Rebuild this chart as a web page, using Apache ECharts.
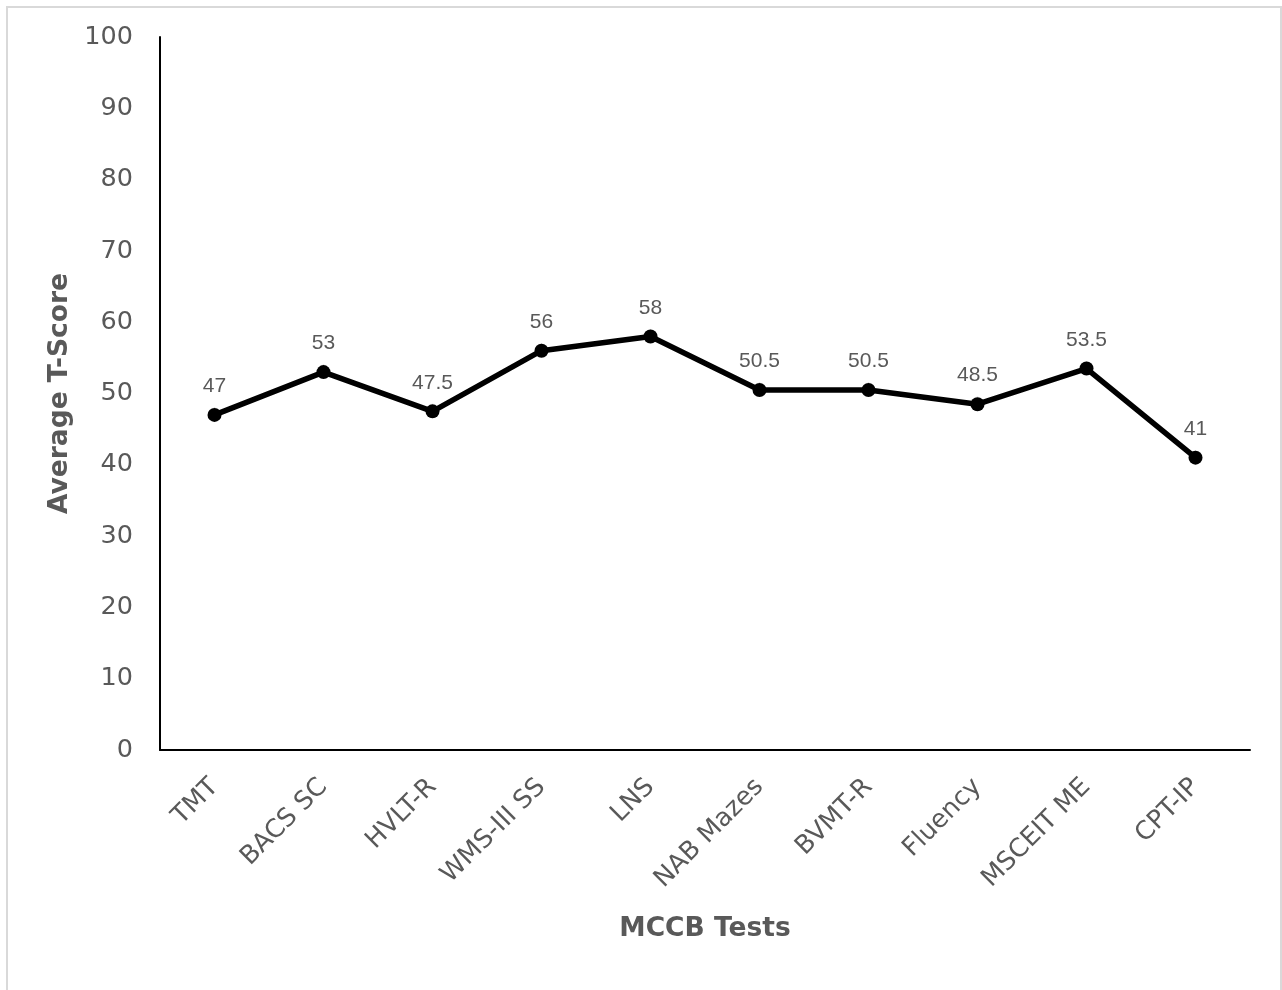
<!DOCTYPE html>
<html>
<head>
<meta charset="utf-8">
<script src="https://cdn.jsdelivr.net/npm/echarts@6/dist/echarts.min.js"></script>
<style>
  html, body { margin: 0; padding: 0; background: #fff; }
  #frame {
    position: absolute; left: 6px; top: 6px; width: 1272px; height: 1000px;
    border-left: 2px solid #d9d9d9; border-top: 2px solid #d9d9d9; border-right: 2px solid #d9d9d9;
  }
  #chart { position: absolute; left: 0; top: 0; width: 1282px; height: 990px; }
</style>
</head>
<body>
<div id="frame"></div>
<div id="chart"></div>
<script>
// MCCB test names and their average T-scores
const tests = ['TMT', 'BACS SC', 'HVLT-R', 'WMS-III SS', 'LNS', 'NAB Mazes', 'BVMT-R', 'Fluency', 'MSCEIT ME', 'CPT-IP'];
const avgTScore = [47, 53, 47.5, 56, 58, 50.5, 50.5, 48.5, 53.5, 41];
const yTicks = { min: 0, max: 100, interval: 10 };

const grey = '#595959';
const chart = echarts.init(document.getElementById('chart'), null, { renderer: 'canvas' });
chart.setOption({
  animation: false,
  backgroundColor: 'transparent',
  grid: { left: 160, right: 32, top: 37, bottom: 240 },
  xAxis: {
    type: 'category',
    data: tests,
    boundaryGap: true,
    axisLine: { lineStyle: { color: '#000', width: 2 } },
    axisTick: { show: false },
    axisLabel: {
      rotate: 45, color: grey, fontFamily: 'DejaVu Sans', fontSize: 25.5, margin: 33, interval: 0
    },
    name: 'MCCB Tests',
    nameLocation: 'middle',
    nameGap: 166,
    nameTextStyle: { color: grey, fontFamily: 'DejaVu Sans', fontWeight: 'bold', fontSize: 26.5 }
  },
  yAxis: {
    type: 'value',
    min: yTicks.min, max: yTicks.max, interval: yTicks.interval,
    axisLine: { show: true, lineStyle: { color: '#000', width: 2 } },
    axisTick: { show: false },
    splitLine: { show: false },
    axisLabel: { color: grey, fontFamily: 'DejaVu Sans', fontSize: 25.5, margin: 27 },
    name: 'Average T-Score',
    nameLocation: 'middle',
    nameGap: 85,
    nameTextStyle: { color: grey, fontFamily: 'DejaVu Sans', fontWeight: 'bold', fontSize: 26.5 }
  },
  series: [{
    type: 'line',
    data: avgTScore,
    symbol: 'circle',
    symbolSize: 14,
    itemStyle: { color: '#000' },
    lineStyle: { color: '#000', width: 5.5 },
    label: {
      show: true, position: 'top', distance: 11,
      color: grey, fontFamily: 'Liberation Sans', fontSize: 21
    },
    labelLine: { show: true, lineStyle: { color: '#bfbfbf', width: 1.5 } }
  }]
});
</script>
</body>
</html>
